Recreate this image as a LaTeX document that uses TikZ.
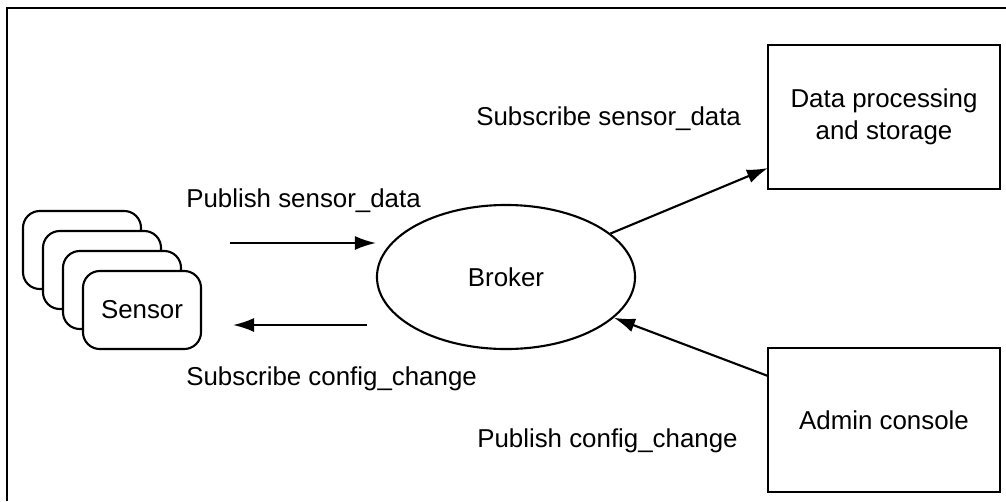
\documentclass[tikz,border=0pt]{standalone}
\usepackage{fontspec}
\setmainfont{Liberation Sans}
\usetikzlibrary{shapes.geometric,arrows.meta}

\begin{document}
\begin{tikzpicture}[x=0.025cm, y=-0.025cm,
    every node/.style={font=\fontsize{18.4}{22.5}\selectfont},
    sensorbox/.style={draw, line width=1.5pt, fill=white, rounded corners=0.42cm,
        minimum width=2.95cm, minimum height=1.95cm},
    procbox/.style={draw, line width=1.5pt, minimum width=5.8cm, minimum height=3.6cm,
        align=center, inner sep=0pt},
    msg/.style={anchor=base west, inner sep=0pt},
    flow/.style={line width=1.5pt, -{Latex[length=15pt,width=10pt]}}]

    % picture size
    \useasboundingbox (0,0) rectangle (1006,501);
    \fill [white] (0,0) rectangle (1006,501);

    % outer frame
    \draw[line width=1.8pt] (7,501) -- (7,8) -- (1006,8);

    % sensor stack
    \node[sensorbox] (sensor1) at (82,250) {};
    \node[sensorbox] (sensor2) at (102,270) {};
    \node[sensorbox] (sensor3) at (122,290) {};
    \node[sensorbox] (sensor4) at (142,310) {Sensor};

    % broker
    \node[draw, ellipse, line width=1.5pt, minimum width=6.45cm, minimum height=3.6cm,
        inner sep=0pt] (broker) at (506,277) {Broker};

    % boxes on the right
    \node[procbox] (storage) at (884,117) {Data processing\\and storage};
    \node[procbox] (admin) at (884,420) {Admin console};

    % arrow ends
    \coordinate (pubstart) at (230,243);
    \coordinate (pubend) at (376,243);
    \coordinate (substart) at (367,325);
    \coordinate (subend) at (233,325);
    \coordinate (storagein) at (768,168);
    \coordinate (adminout) at (768,376);

    % draw arrows
    \draw[flow] (pubstart) -- (pubend);
    \draw[flow] (substart) -- (subend);
    \draw[flow] (broker) -- (storagein);
    \draw[flow] (adminout) -- (broker);

    % add labels
    \node[msg] (pubdata) at (186,207) {Publish sensor\_data};
    \node[msg] (subconfig) at (186,385) {Subscribe config\_change};
    \node[msg] (subdata) at (476,125) {Subscribe sensor\_data};
    \node[msg] (pubconfig) at (477,447) {Publish config\_change};

\end{tikzpicture}
\end{document}
